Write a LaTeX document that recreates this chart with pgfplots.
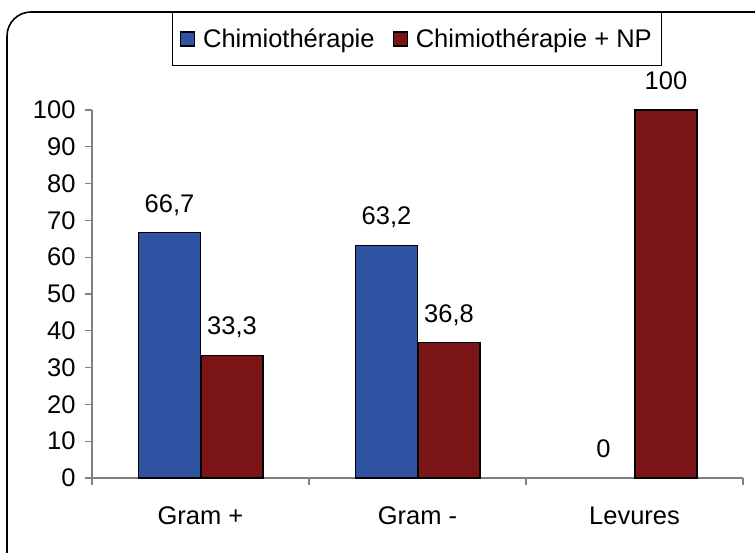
\documentclass[border=0pt]{standalone}
\usepackage{pgfplots}
\pgfplotsset{compat=1.18}
\usepackage{fontspec}
\setmainfont{Liberation Sans}
\definecolor{cblue}{HTML}{2F52A2}
\definecolor{cred}{HTML}{7B1416}
\definecolor{axgray}{HTML}{808080}
\begin{document}
\begin{tikzpicture}[font=\fontsize{25.5}{30}\selectfont]
\useasboundingbox (0,0) rectangle (755pt,552pt);
\draw[line width=1.6pt, rounded corners=24pt] (7pt,-30pt) rectangle (790pt,540pt);
\begin{axis}[
  at={(92pt,74pt)}, anchor=south west,
  scale only axis, width=651pt, height=368pt,
  xmin=-0.5, xmax=2.5, ymin=0, ymax=100,
  axis lines*=left,
  axis line style={axgray, line width=1.3pt},
  tick style={axgray, line width=1.3pt},
  tick align=outside,
  major tick length=7pt,
  ytick={0,10,...,100},
  yticklabel style={xshift=-6pt},
  xtick={-0.5,0.5,1.5,2.5}, xticklabels={},
  extra x ticks={0,1,2},
  extra x tick labels={Gram +, Gram -, Levures},
  extra x tick style={major tick length=0pt},
  xticklabel style={yshift=-25pt},
  /pgf/number format/assume math mode=true,
  ticklabel style={font=\fontsize{25.5}{30}\selectfont},
  nodes near coords,
  point meta=explicit symbolic,
  every node near coord/.append style={anchor=base, yshift=20.5pt, font=\fontsize{25.5}{30}\selectfont, text=black},
  legend columns=2,
  legend style={at={(0.499,1.193)}, anchor=center, draw=black, line width=0.8pt,
    font=\fontsize{25.5}{30}\selectfont, inner xsep=8pt, inner ysep=14pt},
  legend image code/.code={\draw[#1, draw=black, line width=1.2pt] (0pt,-7pt) rectangle (14pt,7pt);},
  clip=false,
]
\addplot[ybar, bar width=62pt, bar shift=0pt, fill=cblue, draw=black, line width=1.3pt]
  coordinates {(-0.143,66.7) [66,7] (0.857,63.2) [63,2]};
\addlegendentry{\rule{6pt}{0pt}Chimiothérapie\rule{16pt}{0pt}}
\addplot[ybar, bar width=62pt, bar shift=0pt, fill=cred, draw=black, line width=1.3pt]
  coordinates {(0.145,33.3) [33,3] (1.145,36.8) [36,8] (2.145,100) [100]};
\addlegendentry{\rule{6pt}{0pt}Chimiothérapie + NP}
\addplot[draw=none, mark=none, forget plot] coordinates {(1.857,0) [0]};
\end{axis}
\end{tikzpicture}
\end{document}
